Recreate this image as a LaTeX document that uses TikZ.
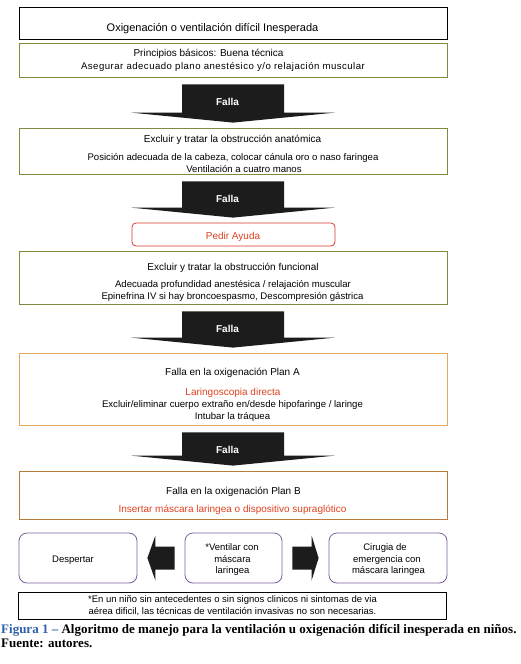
\documentclass[tikz,border=0pt]{standalone}
\usepackage{fontspec}
\setmainfont{Liberation Sans}
\newfontfamily\spfont[LetterSpace=5]{Liberation Sans}
\newfontfamily\capfont{Liberation Serif}
\usetikzlibrary{calc}
\definecolor{grn}{HTML}{7D8C3C}
\definecolor{orA}{HTML}{E3A95A}
\definecolor{orB}{HTML}{B97A3E}
\definecolor{redt}{HTML}{E0411F}
\definecolor{redb}{HTML}{D83A2A}
\definecolor{purp}{HTML}{7E5F9E}
\definecolor{capblue}{HTML}{2F62A8}
\definecolor{arrc}{HTML}{1C1C1C}
\tikzset{
  box/.style={draw, line width=0.8pt, inner sep=0pt, minimum width=428pt},
  rbox/.style={draw=purp, line width=0.8pt, rounded corners=8pt, inner sep=0pt, minimum height=50pt},
  ttl/.style={font=\fontsize{11}{13}\selectfont, inner sep=0pt, anchor=base},
  hd/.style={font=\fontsize{10}{12}\selectfont, inner sep=0pt, anchor=base},
  sb/.style={font=\fontsize{9.6}{11}\selectfont, inner sep=0pt, anchor=base},
  sbs/.style={font=\spfont\fontsize{9.6}{11}\selectfont, inner sep=0pt, anchor=base},
  sm/.style={font=\fontsize{9.5}{11}\selectfont, inner sep=0pt, anchor=base},
  fnt/.style={font=\fontsize{9.5}{11}\selectfont, inner sep=0pt, anchor=base},
  fl/.style={font=\bfseries\fontsize{10}{12}\selectfont, text=white, inner sep=0pt, anchor=base},
  arr/.style={fill=arrc, draw=none},
  captxt/.style={font=\capfont\bfseries\fontsize{13}{15}\selectfont, inner sep=0pt, anchor=base west},
}
\newcommand\fallaarrow[3]{%
  \path[arr] let \p1=(#1.south), \p2=(#2.north) in
    (\x1-51pt,\y1-7pt) -- (\x1+51pt,\y1-7pt) -- (\x1+51pt,\y2+15pt) -- (\x1+102pt,\y2+15pt)
    -- (\x1,\y2+5pt) -- (\x1-102pt,\y2+15pt) -- (\x1-51pt,\y2+15pt) -- cycle;
  \path let \p1=(#1.south) in node[fl] (#3) at (\x1-5.5pt,\y1-28pt) {Falla};
}
\begin{document}
\begin{tikzpicture}[x=1pt,y=-1pt]
\useasboundingbox[fill=white] (0,0) rectangle (521,664);
% boxes
\node[box, draw=black, minimum height=32pt] (b1) at (233,23) {};
\node[box, draw=grn, minimum height=34pt] (b2) at (233,60) {};
\node[box, draw=grn, minimum height=46pt] (b3) at (233,151) {};
\node[draw=redb, line width=0.8pt, rounded corners=4pt, inner sep=0pt, minimum width=203pt, minimum height=23pt] (help) at (233.5,234.5) {};
\node[box, draw=grn, minimum height=53pt] (b4) at (233,277.5) {};
\node[box, draw=orA, minimum height=72pt] (b5) at (233,389) {};
\node[box, draw=orB, minimum height=48pt] (b6) at (233,495) {};
\node[rbox, minimum width=118pt] (d1) at (78,558) {};
\node[rbox, minimum width=97pt] (d2) at (233.5,558) {};
\node[rbox, minimum width=118pt] (d3) at (388,558) {};
\node[box, draw=black, minimum height=27pt] (fn) at (232.5,605.5) {};
% texts
\node[ttl] (t1) at (212.5,31) {Oxigenación o ventilación difícil Inesperada};
\node[hd] (t2a) at (208.5,56) {Principios básicos: Buena técnica};
\node[sbs] (t2b) at (223,69.5) {Asegurar adecuado plano anestésico y/o relajación muscular};
\node[hd] (t3a) at (232.5,142) {Excluir y tratar la obstrucción anatómica};
\node[sb] (t3b) at (233,160.5) {Posición adecuada de la cabeza, colocar cánula oro o naso faringea};
\node[sb] (t3c) at (244,172.5) {Ventilación a cuatro manos};
\node[hd, text=redt] (th) at (233,239.5) {Pedir Ayuda};
\node[hd] (t4a) at (233,270) {Excluir y tratar la obstrucción funcional};
\node[sb] (t4b) at (233,287.5) {Adecuada profundidad anestésica / relajación muscular};
\node[sb] (t4c) at (232.5,299.5) {Epinefrina IV si hay broncoespasmo, Descompresión gástrica};
\node[hd] (t5a) at (232.5,375) {Falla en la oxigenación Plan A};
\node[hd, text=redt] (t5b) at (233,395) {Laringoscopia directa};
\node[sb] (t5c) at (232.5,407.5) {Excluir/eliminar cuerpo extraño en/desde hipofaringe / laringe};
\node[sb] (t5d) at (232.5,419.5) {Intubar la tráquea};
\node[hd] (t6a) at (233.5,494) {Falla en la oxigenación Plan B};
\node[hd, text=redt] (t6b) at (232.5,512) {Insertar máscara laringea o dispositivo supraglótico};
\node[sm] (td1) at (73,562.5) {Despertar};
\node[sm] (td2a) at (232,550.5) {*Ventilar con};
\node[sm] (td2b) at (232.5,562.5) {máscara};
\node[sm] (td2c) at (232.5,573.5) {laringea};
\node[sm] (td3a) at (385,550.5) {Cirugia de};
\node[sm] (td3b) at (387,562.5) {emergencia con};
\node[sm] (td3c) at (388.5,573.5) {máscara laringea};
\node[fnt] (tf1) at (232.5,602.5) {*En un niño sin antecedentes o sin signos clinicos ni sintomas de via};
\node[fnt] (tf2) at (232.5,614.5) {aérea dificil, las técnicas de ventilación invasivas no son necesarias.};
% falla arrows
\fallaarrow{b2}{b3}{f1}
\fallaarrow{b3}{help}{f2}
\fallaarrow{b4}{b5}{f3}
\fallaarrow{b5}{b6}{f4}
% side arrows
\path[arr] let \p1=(d1.east), \p2=(d2.west) in
  (\x1+10pt,\y1) -- (\x1+18pt,\y1+22.5pt) -- (\x1+18pt,\y1+11.5pt) -- (\x2-10pt,\y1+11.5pt)
  -- (\x2-10pt,\y1-11.5pt) -- (\x1+18pt,\y1-11.5pt) -- (\x1+18pt,\y1-22.5pt) -- cycle;
\path[arr] let \p1=(d2.east), \p2=(d3.west) in
  (\x1+10pt,\y1+11.5pt) -- (\x2-17pt,\y1+11.5pt) -- (\x2-17pt,\y1+22.5pt) -- (\x2-10pt,\y1)
  -- (\x2-17pt,\y1-22.5pt) -- (\x2-17pt,\y1-11.5pt) -- (\x1+10pt,\y1-11.5pt) -- cycle;
% caption
\node[captxt] (c1) at (1,633) {\textcolor{capblue}{Figura 1 –} Algoritmo de manejo para la ventilación u oxigenación difícil inesperada en niños.};
\node[captxt] (c2) at (1,647) {Fuente: autores.};
\end{tikzpicture}
\end{document}
